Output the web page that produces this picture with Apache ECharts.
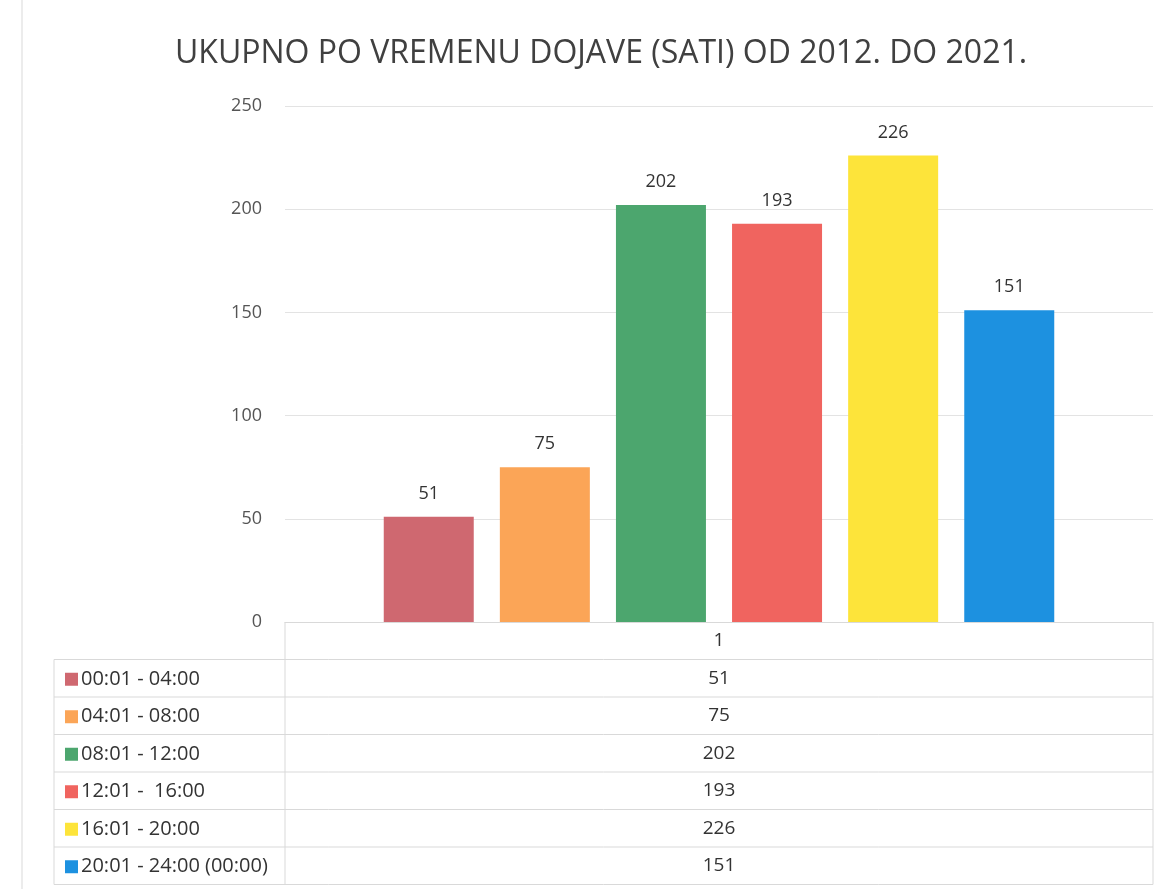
<!DOCTYPE html>
<html>
<head>
<meta charset="utf-8">
<script src="https://cdn.jsdelivr.net/npm/echarts@6/dist/echarts.min.js"></script>
<style>
  html, body { margin: 0; padding: 0; background: #fff; }
  #chart { width: 1172px; height: 889px; }
</style>
</head>
<body>
<div id="chart"></div>
<script>
// chart data
const categories = ['1']
const seriesNames = ['00:01 - 04:00', '04:01 - 08:00', '08:01 - 12:00', '12:01 -  16:00', '16:01 - 20:00', '20:01 - 24:00 (00:00)']
const values = [51, 75, 202, 193, 226, 151]
const yTicks = [0, 50, 100, 150, 200, 250]
const colors = ['#cf6870', '#fba557', '#4ca66e', '#f0645f', '#fde43a', '#1d91e0']

const FONT = 'Open Sans'
const TEXT = '#333'
const LINE = '#d9d9d9'

// layout of the grid + table under it
const gridLeft = 285
const gridRight = 1153
const gridTop = 106
const axisY = 622
const tableLeft = 54
const rowH = 37.5
const legendFont = 20

const chart = echarts.init(document.getElementById('chart'))

function tableGraphics() {
  const els = []
  const nRows = seriesNames.length
  const headerBottom = axisY + rowH
  const bottom = headerBottom + nRows * rowH
  const line = (x1, y1, x2, y2) => ({
    type: 'line',
    shape: { x1, y1, x2, y2 },
    style: { stroke: LINE, lineWidth: 1 },
    silent: true
  })
  // grid lines of the data table
  els.push(line(gridRight, axisY, gridRight, bottom))
  els.push(line(gridLeft, axisY, gridLeft, bottom))
  els.push(line(tableLeft, headerBottom, tableLeft, bottom))
  for (let i = 0; i <= nRows; i++) {
    const y = headerBottom + i * rowH
    els.push(line(tableLeft, y, gridRight, y))
  }
  // values
  const cx = (gridLeft + gridRight) / 2
  values.forEach((v, i) => {
    els.push({
      type: 'text',
      x: cx,
      y: headerBottom + i * rowH + rowH / 2,
      style: {
        text: String(v),
        fill: TEXT,
        font: '19px "' + FONT + '"',
        align: 'center',
        verticalAlign: 'middle'
      },
      silent: true
    })
  })
  // faint page frame on the left
  els.push(line(22, 0, 22, 889))
  return els
}

const option = {
  animation: false,
  backgroundColor: '#fff',
  color: colors,
  textStyle: { fontFamily: FONT },
  title: {
    text: 'UKUPNO PO VREMENU DOJAVE (SATI) OD 2012. DO 2021.',
    left: 170,
    top: 33,
    textStyle: {
      fontFamily: FONT,
      fontSize: 32,
      fontWeight: 'normal',
      color: '#404040'
    }
  },
  legend: {
    orient: 'vertical',
    left: 60,
    top: axisY + rowH + rowH / 2 - legendFont / 2 - 4,
    icon: 'rect',
    itemWidth: 13,
    itemHeight: 13,
    itemGap: rowH - legendFont,
    selectedMode: false,
    textStyle: { fontFamily: FONT, fontSize: legendFont, lineHeight: legendFont, color: TEXT, padding: [0, 0, 0, -2] },
    data: seriesNames
  },
  grid: {
    left: gridLeft,
    right: 1172 - gridRight,
    top: gridTop,
    bottom: 889 - axisY
  },
  xAxis: {
    type: 'category',
    data: categories,
    axisLine: { lineStyle: { color: LINE } },
    axisTick: { show: false },
    axisLabel: { color: TEXT, fontSize: 19, margin: 9 }
  },
  yAxis: {
    type: 'value',
    min: yTicks[0],
    max: yTicks[yTicks.length - 1],
    interval: yTicks[1] - yTicks[0],
    axisLine: { show: false },
    axisTick: { show: false },
    axisLabel: { color: '#555', fontSize: 18, margin: 23 },
    splitLine: { lineStyle: { color: '#e3e3e3' } }
  },
  series: seriesNames.map((name, i) => ({
    name,
    type: 'bar',
    barWidth: 90,
    barGap: '29%',
    data: [values[i]],
    itemStyle: { color: colors[i] },
    label: {
      show: true,
      position: 'top',
      distance: 14,
      color: TEXT,
      fontSize: 18
    }
  })),
  graphic: tableGraphics()
}

chart.setOption(option)
</script>
</body>
</html>
